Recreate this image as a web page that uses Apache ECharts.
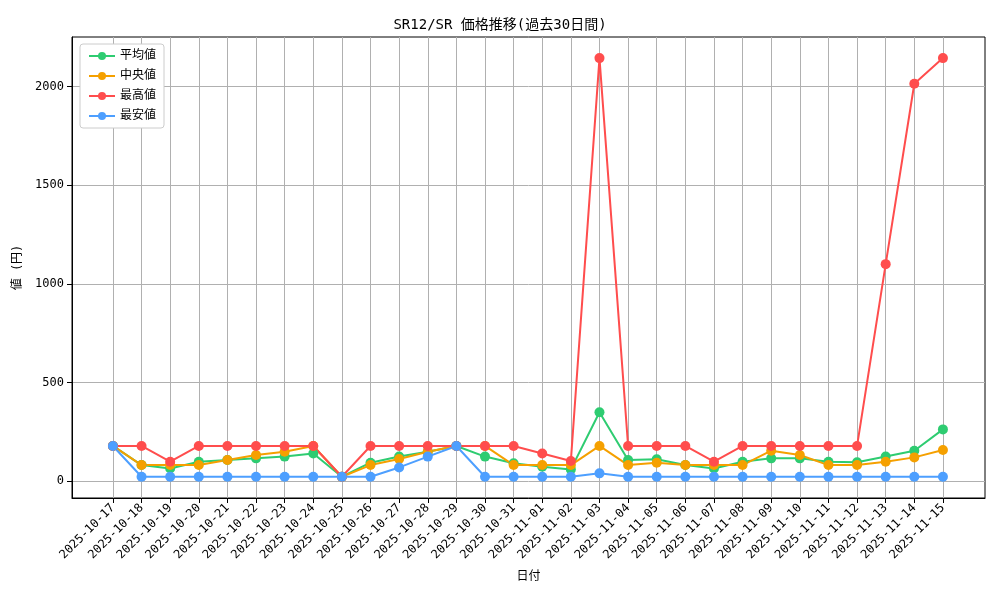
<!DOCTYPE html><html><head><meta charset="utf-8"><script src="https://cdn.jsdelivr.net/npm/echarts@6/dist/echarts.min.js"></script></head><body style="margin:0"><div id="c" style="width:1000px;height:600px"></div><script>
const dates=['2025-10-17','2025-10-18','2025-10-19','2025-10-20','2025-10-21','2025-10-22','2025-10-23','2025-10-24','2025-10-25','2025-10-26','2025-10-27','2025-10-28','2025-10-29','2025-10-30','2025-10-31','2025-11-01','2025-11-02','2025-11-03','2025-11-04','2025-11-05','2025-11-06','2025-11-07','2025-11-08','2025-11-09','2025-11-10','2025-11-11','2025-11-12','2025-11-13','2025-11-14','2025-11-15'];
const avgV=[178,81,64,98,107,115,124,140,22,93,124,149,178,124,90,73,59,349,107,110,81,64,98,115,115,98,95,124,154,262];
const medV=[178,81,81,81,107,132,149,178,22,81,112,149,178,178,81,81,81,178,81,93,81,81,81,154,132,81,81,98,120,157];
const maxV=[178,178,98,178,178,178,178,178,22,178,178,178,178,178,178,140,102,2145,178,178,178,98,178,178,178,178,178,1100,2015,2145];
const minV=[178,22,22,22,22,22,22,22,22,22,69,124,178,22,22,22,22,39,22,22,22,22,22,22,22,22,22,22,22,22];
const yTicks=[0,500,1000,1500,2000];
const ff='"DejaVu Sans Mono", "Noto Sans CJK JP", monospace';
const mk=(name,data,color)=>({name,type:'line',data:data.map((v,i)=>[i,v]),itemStyle:{color},lineStyle:{color,width:2},symbol:'circle',symbolSize:10,z:3});
const ch=echarts.init(document.getElementById('c'));
ch.setOption({animation:false,
title:{text:'SR12/SR 価格推移(過去30日間)',left:'center',top:13,textStyle:{fontFamily:ff,fontSize:14,fontWeight:'normal',color:'#000'}},
legend:{orient:'vertical',left:80,top:44,itemWidth:26,itemHeight:10,itemGap:8,borderColor:'#ccc',borderWidth:1,borderRadius:3,padding:[6,8],textStyle:{fontFamily:ff,fontSize:12,color:'#000'},data:['平均値','中央値','最高値','最安値'],backgroundColor:'#fff'},
grid:{left:72,right:15,top:37,bottom:102,show:true,borderColor:'#000',borderWidth:1},
xAxis:{type:'value',min:-1.43,max:30.47,name:'日付',nameLocation:'middle',nameGap:73,nameTextStyle:{fontFamily:ff,fontSize:12,color:'#000'},
axisLine:{onZero:false,lineStyle:{color:'#000'}},axisTick:{customValues:dates.map((d,i)=>i),lineStyle:{color:'#000'}},
axisLabel:{customValues:dates.map((d,i)=>i),formatter:v=>dates[Math.round(v)]||'',rotate:45,fontFamily:ff,fontSize:12,color:'#000',margin:8},
splitLine:{show:true,lineStyle:{color:'#b0b0b0'}}},
yAxis:{type:'value',min:-86,max:2252,name:'値 (円)',nameLocation:'middle',nameGap:48,nameTextStyle:{fontFamily:ff,fontSize:12,color:'#000'},
axisLine:{show:true,onZero:false,lineStyle:{color:'#000'}},axisTick:{show:true,customValues:yTicks,lineStyle:{color:'#000'}},
axisLabel:{customValues:yTicks,formatter:v=>String(v),fontFamily:ff,fontSize:12,color:'#000'},splitLine:{show:true,lineStyle:{color:'#b0b0b0'}}},
series:[mk('平均値',avgV,'#2ecc71'),mk('中央値',medV,'#f5a000'),mk('最高値',maxV,'#ff4d4d'),mk('最安値',minV,'#4d9fff')]});
</script></body></html>
